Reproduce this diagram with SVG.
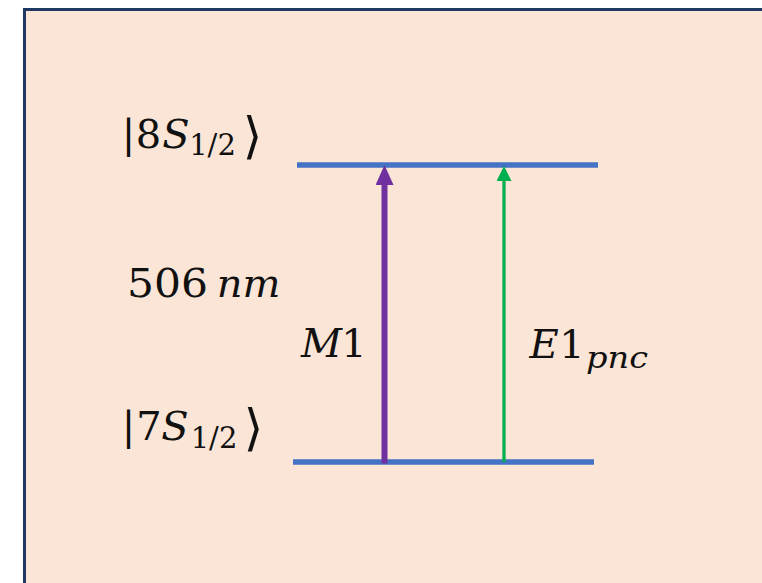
<svg xmlns="http://www.w3.org/2000/svg" width="762" height="583" viewBox="0 0 762 583">
  <style>
    .t { font-family: "DejaVu Serif", "Liberation Serif", serif; font-size: 40px; fill: #111; text-anchor: middle; }
    .t tspan { text-anchor: middle; }
    .i { font-style: italic; }
    .sub { font-size: 29px; }
    .ket { font-size: 50px; }
    .level { stroke: #4472C4; stroke-width: 5.5; fill: none; }
  </style>
  <defs>
    <marker id="headPurple" viewBox="0 0 20 18" refX="0" refY="9" markerWidth="20" markerHeight="18" markerUnits="userSpaceOnUse" orient="auto">
      <path d="M0,0 L20,9 L0,18 z" fill="#7030A0"/>
    </marker>
    <marker id="headGreen" viewBox="0 0 15 15" refX="0" refY="7.5" markerWidth="15" markerHeight="15" markerUnits="userSpaceOnUse" orient="auto">
      <path d="M0,0 L15,7.5 L0,15 z" fill="#00B050"/>
    </marker>
  </defs>

  <rect x="0" y="0" width="762" height="583" fill="#FFFFFF"/>
  <rect id="panel" x="24.5" y="9.5" width="760" height="600" fill="#FBE5D6" stroke="#1F3864" stroke-width="3"/>

  <g id="level-8S">
    <line class="level" x1="297" y1="165" x2="598" y2="165"/>
    <text class="t" y="148"><tspan x="128.5">|</tspan><tspan x="148.5">8</tspan><tspan class="i" x="176">S</tspan><tspan class="sub" x="212.5" y="155">1/2</tspan><tspan class="ket" x="252.5" y="153">⟩</tspan></text>
  </g>

  <g id="level-7S">
    <line class="level" x1="293" y1="462" x2="594" y2="462"/>
    <text class="t" y="440"><tspan x="128.5">|</tspan><tspan x="149">7</tspan><tspan class="i" x="175">S</tspan><tspan class="sub" x="214" y="448">1/2</tspan><tspan class="ket" x="253.5" y="445">⟩</tspan></text>
  </g>

  <g id="label-wavelength">
    <text class="t" y="297"><tspan x="167.5" textLength="81" lengthAdjust="spacingAndGlyphs">506</tspan><tspan class="i" x="248.5">nm</tspan></text>
  </g>

  <g id="connectors">
    <g id="arrow-M1">
      <line x1="384.5" y1="463.5" x2="384.5" y2="185" stroke="#7030A0" stroke-width="6" marker-end="url(#headPurple)"/>
      <text class="t" y="357"><tspan class="i" x="321.5">M</tspan><tspan x="354">1</tspan></text>
    </g>
    <g id="arrow-E1pnc">
      <line x1="504" y1="462" x2="504" y2="181" stroke="#00B050" stroke-width="3.3" marker-end="url(#headGreen)"/>
      <text class="t" y="358"><tspan class="i" x="544">E</tspan><tspan x="572">1</tspan><tspan class="i sub" x="617" y="368" textLength="62" lengthAdjust="spacingAndGlyphs">pnc</tspan></text>
    </g>
  </g>
</svg>
